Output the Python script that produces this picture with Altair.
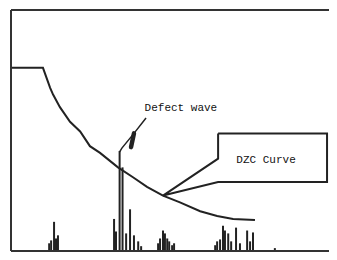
import altair as alt
import pandas as pd

# DZC (distance-amplitude) curve: time (% of screen width) vs amplitude (% of screen height)
dzc_t = [0, 9.8, 12.0, 12.9, 15.0, 18.1, 21.2, 24.2, 27.3, 32.8, 37.4, 41.7, 46.6, 51.8, 58.0, 63.2, 68.1, 74.8]
dzc_a = [76.0, 76.0, 67.7, 64.9, 59.7, 53.6, 49.6, 43.5, 40.7, 34.7, 30.6, 26.6, 23.0, 20.2, 16.5, 14.5, 13.3, 12.9]

# Echo spikes (A-scan): position and peak amplitude
echo_t = [11.7, 12.3, 13.2, 13.8, 14.4,
          31.6, 32.2, 33.3, 34.2, 35.3, 36.5, 37.7, 39.0,
          39.9, 45.1, 45.7, 46.6, 47.2, 47.9, 48.5, 49.4, 50.0,
          62.6, 63.2, 64.1, 65.0, 65.6, 66.6, 67.5, 69.0, 70.2, 72.4, 73.3, 74.2, 80.9]
echo_a = [3.2, 4.4, 12.1, 5.2, 6.5,
          13.3, 8.1, 41.5, 34.7, 7.3, 17.3, 6.5, 4.0,
          2.0, 3.2, 5.2, 8.5, 7.3, 5.2, 4.0, 2.4, 3.2,
          2.4, 4.0, 4.8, 10.5, 8.5, 7.3, 4.0, 9.7, 3.2, 8.5, 4.0, 7.7, 1.2]

# Annotation: leader for the defect wave
leader_t = [41.4, 37.7, 34.0, 33.3]
leader_a = [55.2, 48.8, 42.7, 41.1]
arrow_t = [37.7, 36.8]
arrow_a = [48.8, 43.1]

# Callout box for the DZC curve
box_t = [63.5, 96.9, 96.9, 63.5, 46.6, 63.5, 63.5]
box_a = [48.8, 48.8, 28.6, 28.6, 23.0, 38.3, 48.8]

labels = ["Defect wave", "DZC Curve"]
label_t = [52.1, 78.2]
label_a = [59.3, 37.9]

INK = "#222222"
W, H = 318, 241
xs = alt.Scale(domain=[0, 97.5], nice=False, zero=False)
ys = alt.Scale(domain=[0, 100], nice=False, zero=False)

def xy(tcol="t", acol="a"):
    return dict(x=alt.X(f"{tcol}:Q", scale=xs, axis=None),
                y=alt.Y(f"{acol}:Q", scale=ys, axis=None))

dzc = pd.DataFrame({"t": dzc_t, "a": dzc_a, "o": range(len(dzc_t))})
echo = pd.DataFrame({"t": echo_t, "a": echo_a, "a0": [0] * len(echo_t)})
leader = pd.DataFrame({"t": leader_t, "a": leader_a, "o": range(len(leader_t))})
arrow = pd.DataFrame({"t": arrow_t, "a": arrow_a, "o": range(len(arrow_t))})
box = pd.DataFrame({"t": box_t, "a": box_a, "o": range(len(box_t))})
lab = pd.DataFrame({"label": labels, "t": label_t, "a": label_a})

frame_style = dict(color="#333333", strokeWidth=2)
top_line = alt.Chart().mark_rule(**frame_style).encode(
    x=alt.value(0), x2=alt.value(W), y=alt.value(0))
left_line = alt.Chart().mark_rule(**frame_style).encode(
    x=alt.value(0), y=alt.value(0), y2=alt.value(H))
bottom_line = alt.Chart().mark_rule(**frame_style).encode(
    x=alt.value(0), x2=alt.value(W), y=alt.value(H))

curve = alt.Chart(dzc).mark_line(color=INK, strokeWidth=2).encode(order="o:Q", **xy())
spikes = alt.Chart(echo).mark_rule(color=INK, strokeWidth=2).encode(
    y2="a0:Q", **xy())
lead = alt.Chart(leader).mark_line(color=INK, strokeWidth=1.5).encode(order="o:Q", **xy())
arr = alt.Chart(arrow).mark_line(color=INK, strokeWidth=4.5, strokeCap="round").encode(order="o:Q", **xy())
callout = alt.Chart(box).mark_line(color=INK, strokeWidth=2).encode(order="o:Q", **xy())
texts = alt.Chart(lab).mark_text(font="Liberation Mono", fontSize=11, color="#111111").encode(
    text="label:N", **xy())

chart = alt.layer(curve, spikes, lead, arr, callout, texts,
                  top_line, left_line, bottom_line).properties(
    width=W, height=H,
    background="white",
    padding={"left": 3, "top": 2, "right": 0, "bottom": 1},
    autosize=alt.AutoSizeParams(type="none"),
).configure_view(stroke=None)

chart.save("out.html", embed_options={"renderer": "svg", "actions": False})
